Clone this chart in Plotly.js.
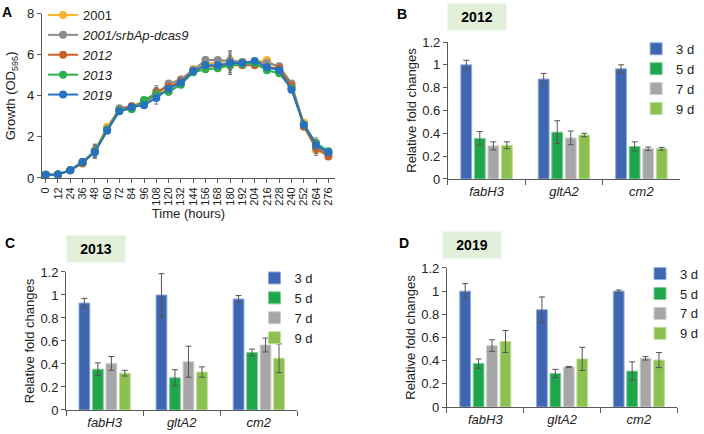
<!DOCTYPE html>
<html>
<head>
<meta charset="utf-8">
<script src="https://cdn.plot.ly/plotly-3.0.1.min.js"></script>
<style>
  html, body { margin: 0; padding: 0; background: #fff; }
  #fig { width: 704px; height: 434px; }
</style>
</head>
<body>
<div id="fig"></div>
<script>
// panel A: growth curves
var hours = [0, 12, 24, 36, 48, 60, 72, 84, 96, 108, 120, 132, 144, 156, 168, 180, 192, 204, 216, 228, 240, 252, 264, 276];
var strains = ["2001", "<i>2001/srbAp-dcas9</i>", "<i>2012</i>", "<i>2013</i>", "<i>2019</i>"];
var strainColors = ["#F7B52C", "#8C8C8C", "#C8602A", "#2DB04B", "#2572C0"];
var g2001 = [0.15, 0.17, 0.38, 0.78, 1.35, 2.5, 3.35, 3.5, 3.65, 4.05, 4.45, 4.8, 5.3, 5.6, 5.6, 5.75, 5.65, 5.65, 5.75, 5.35, 4.45, 2.7, 1.35, 1.15];
var gDcas9 = [0.15, 0.17, 0.38, 0.78, 1.3, 2.4, 3.4, 3.5, 3.6, 4.1, 4.6, 4.8, 5.25, 5.75, 5.75, 5.7, 5.65, 5.65, 5.6, 5.45, 4.6, 2.6, 1.5, 1.2];
var g2012 = [0.15, 0.17, 0.38, 0.7, 1.3, 2.35, 3.3, 3.5, 3.7, 4.2, 4.45, 4.7, 5.2, 5.45, 5.45, 5.5, 5.5, 5.5, 5.4, 5.35, 4.5, 2.5, 1.45, 1.05];
var g2013 = [0.15, 0.17, 0.38, 0.75, 1.3, 2.35, 3.3, 3.35, 3.8, 4.1, 4.2, 4.55, 5.15, 5.3, 5.35, 5.5, 5.55, 5.6, 5.25, 5.1, 4.35, 2.6, 1.7, 1.3];
var g2019 = [0.15, 0.17, 0.38, 0.78, 1.25, 2.3, 3.25, 3.45, 3.55, 3.9, 4.35, 4.65, 5.2, 5.5, 5.5, 5.6, 5.6, 5.7, 5.4, 5.25, 4.3, 2.6, 1.6, 1.25];
var errA = [0.02, 0.02, 0.05, 0.08, 0.3, 0.1, 0.1, 0.08, 0.1, 0.3, 0.15, 0.1, 0.15, 0.15, 0.1, 0.45, 0.1, 0.1, 0.1, 0.15, 0.15, 0.1, 0.25, 0.08];
var growth = [g2001, gDcas9, g2012, g2013, g2019];

// panels B-D: relative fold changes
var genes = ["fabH3", "gltA2", "cm2"];
var days = ["3 d", "5 d", "7 d", "9 d"];
var dayColors = ["#3F67B1", "#1FA64B", "#A6A6A6", "#8CC152"];
var dayEdges = ["#8FAADC", "#7FCC95", "#CFCFCF", "#BFE09A"];

var val2012 = [[1.0, 0.875, 0.965], [0.355, 0.41, 0.285], [0.29, 0.36, 0.265], [0.295, 0.385, 0.265]];
var err2012 = [[0.04, 0.05, 0.035], [0.06, 0.1, 0.04], [0.035, 0.06, 0.015], [0.03, 0.015, 0.012]];
var val2013 = [[0.93, 1.0, 0.965], [0.355, 0.28, 0.5], [0.405, 0.42, 0.565], [0.32, 0.33, 0.45]];
var err2013 = [[0.04, 0.185, 0.03], [0.055, 0.07, 0.03], [0.06, 0.135, 0.06], [0.025, 0.045, 0.125]];
var val2019 = [[1.0, 0.84, 1.0], [0.375, 0.29, 0.31], [0.53, 0.345, 0.42], [0.565, 0.415, 0.405]];
var err2019 = [[0.065, 0.11, 0.01], [0.04, 0.035, 0.08], [0.05, 0.005, 0.015], [0.095, 0.1, 0.065]];

var font = 'Arial, "Liberation Sans", sans-serif';
var axisColor = "#595959";

var data = [];
for (var i = 0; i < strains.length; i++) {
  data.push({
    x: hours,
    y: growth[i],
    name: strains[i],
    type: "scatter",
    mode: "lines+markers",
    line: {color: strainColors[i], width: 2},
    marker: {color: strainColors[i], size: 8},
    error_y: {type: "data", array: errA, color: "#777", thickness: 1, width: 2},
    xaxis: "x",
    yaxis: "y",
    legend: "legend"
  });
}

function addBars(vals, errs, n) {
  for (var d = 0; d < days.length; d++) {
    data.push({
      x: genes,
      y: vals[d],
      name: days[d],
      type: "bar",
      marker: {color: dayColors[d], line: {color: dayEdges[d], width: 1}},
      error_y: {type: "data", array: errs[d], color: "#555", thickness: 1, width: 3},
      xaxis: "x" + n,
      yaxis: "y" + n,
      legend: "legend" + n
    });
  }
}
addBars(val2012, err2012, 2);
addBars(val2013, err2013, 3);
addBars(val2019, err2019, 4);

function barX(dom, n) {
  return {
    domain: dom, anchor: "y" + n, type: "category", showline: true, linecolor: axisColor, linewidth: 1,
    ticks: "outside", tickson: "boundaries", ticklen: 5, tickcolor: axisColor,
    tickfont: {size: 13, style: "italic", color: "#222"}, showgrid: false
  };
}
function barY(dom, n) {
  return {
    domain: dom, anchor: "x" + n, range: [0, 1.2], dtick: 0.2, showline: true, linecolor: axisColor,
    ticks: "outside", ticklen: 4, tickcolor: axisColor, showgrid: false, zeroline: false,
    tickfont: {size: 13, color: "#222"},
    title: {text: "Relative fold changes", font: {size: 13, color: "#222"}, standoff: 2}
  };
}
function barLegend(x, y) {
  return {x: x, y: y, xanchor: "left", yanchor: "top", font: {size: 13, color: "#222"},
    bgcolor: "rgba(0,0,0,0)", tracegroupgap: 0, itemwidth: 30};
}
function label(txt, x, y) {
  return {text: "<b>" + txt + "</b>", x: x, y: y, xref: "paper", yref: "paper", xanchor: "left",
    yanchor: "top", showarrow: false, font: {size: 14, color: "#000"}};
}
function yearBox(txt, x, y) {
  return {text: "<b>" + txt + "</b>", x: x, y: y, xref: "paper", yref: "paper", xanchor: "center",
    yanchor: "middle", showarrow: false, width: 56, height: 24, bgcolor: "#E2F0D9",
    font: {size: 14, color: "#000"}};
}

var layout = {
  width: 704, height: 434,
  margin: {l: 0, r: 0, t: 0, b: 0},
  paper_bgcolor: "#fff", plot_bgcolor: "#fff",
  font: {family: font, color: "#222"},
  barmode: "group", bargap: 0.3, bargroupgap: 0.2,
  xaxis: {
    domain: [0.0611, 0.490], anchor: "y", range: [-3.8, 282.6], tickmode: "array", tickvals: hours,
    tickangle: -90, ticks: "outside", ticklen: 4, tickcolor: axisColor, showline: true,
    linecolor: axisColor, showgrid: false, zeroline: false, tickfont: {size: 11},
    title: {text: "Time (hours)", font: {size: 13}, standoff: 2}
  },
  yaxis: {
    domain: [0.590, 0.968], anchor: "x", range: [0, 8], dtick: 2, ticks: "outside", ticklen: 4,
    tickcolor: axisColor, showline: true, linecolor: axisColor, showgrid: false, zeroline: false,
    tickfont: {size: 13},
    title: {text: "Growth (OD<sub>595</sub>)", font: {size: 13}, standoff: 8}
  },
  xaxis2: barX([0.6548, 0.9943], 2),
  yaxis2: barY([0.5876, 0.9032], 2),
  xaxis3: barX([0.0966, 0.4347], 3),
  yaxis3: barY([0.0553, 0.3733], 3),
  xaxis4: barX([0.6534, 0.9901], 4),
  yaxis4: barY([0.0622, 0.3825], 4),
  legend: {x: 0.063, y: 1.0, xanchor: "left", yanchor: "top", font: {size: 13},
    bgcolor: "rgba(0,0,0,0)", tracegroupgap: 0, itemwidth: 30},
  legend2: barLegend(0.930, 0.922),
  legend3: barLegend(0.372, 0.394),
  legend4: barLegend(0.936, 0.404),
  annotations: [
    label("A", 0.0, 0.995),
    label("B", 0.578, 0.99),
    label("C", 0.005, 0.462),
    label("D", 0.580, 0.462),
    yearBox("2012", 0.697, 0.960),
    yearBox("2013", 0.141, 0.426),
    yearBox("2019", 0.690, 0.435)
  ]
};

Plotly.newPlot("fig", data, layout, {displayModeBar: false, staticPlot: true});
</script>
</body>
</html>
